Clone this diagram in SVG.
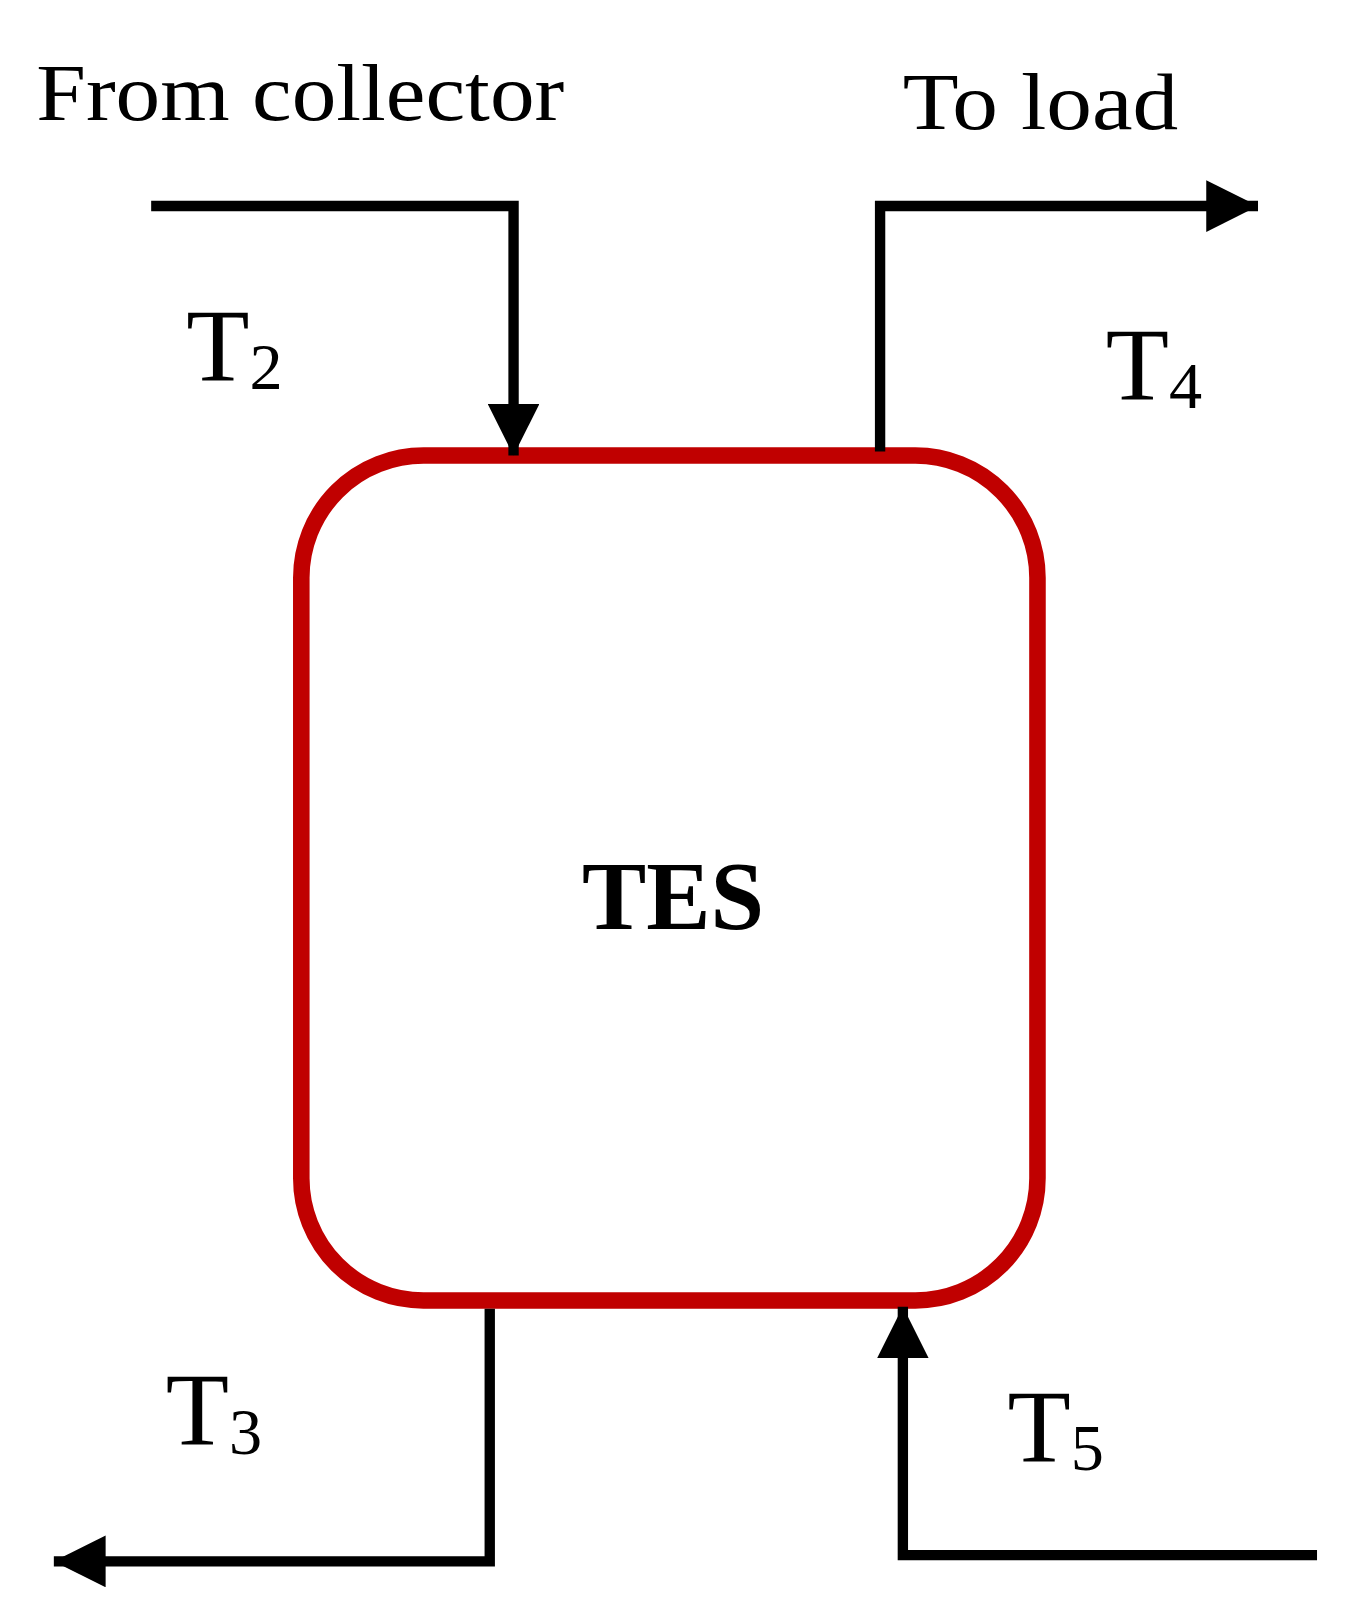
<svg xmlns="http://www.w3.org/2000/svg" width="1346" height="1619" viewBox="0 0 1346 1619">
<style>
text{font-family:"Liberation Serif","DejaVu Serif",serif;fill:#000}
.lbl{font-size:78px}
.t{font-size:100px}
.s{font-size:64px}
.pipe{fill:none;stroke:#000;stroke-width:10}
</style>
<defs>
<marker id="ah" viewBox="0 0 10 10" refX="10" refY="5" markerWidth="5" markerHeight="5" orient="auto" markerUnits="strokeWidth"><path d="M0,0L10,5L0,10Z" fill="#000"/></marker>
</defs>
<rect width="1346" height="1619" fill="#fff"/>
<g transform="scale(1.0354)">
<g id="tes">
<rect x="291" y="440" width="711" height="816" rx="118" fill="none" stroke="#c00000" stroke-width="16"/>
<text x="562" y="897" font-size="94" font-weight="bold" textLength="176" lengthAdjust="spacingAndGlyphs">TES</text>
</g>
<g id="connectors">
<path class="pipe" d="M146,199H496V440" marker-end="url(#ah)"/>
<path class="pipe" d="M850,436V199H1215" marker-end="url(#ah)"/>
<path class="pipe" d="M473,1264V1508H52" marker-end="url(#ah)"/>
<path class="pipe" d="M1272,1502H872V1262" marker-end="url(#ah)"/>
</g>
<g id="labels">
<text class="lbl" x="35" y="116" textLength="510" lengthAdjust="spacingAndGlyphs">From collector</text>
<text class="lbl" x="872" y="125" textLength="266" lengthAdjust="spacingAndGlyphs">To load</text>
<text class="t" x="180" y="368">T<tspan class="s" dy="8">2</tspan></text>
<text class="t" x="1068" y="386">T<tspan class="s" dy="8">4</tspan></text>
<text class="t" x="160" y="1396">T<tspan class="s" dy="8">3</tspan></text>
<text class="t" x="973" y="1412">T<tspan class="s" dy="8">5</tspan></text>
</g>
</g>
</svg>
